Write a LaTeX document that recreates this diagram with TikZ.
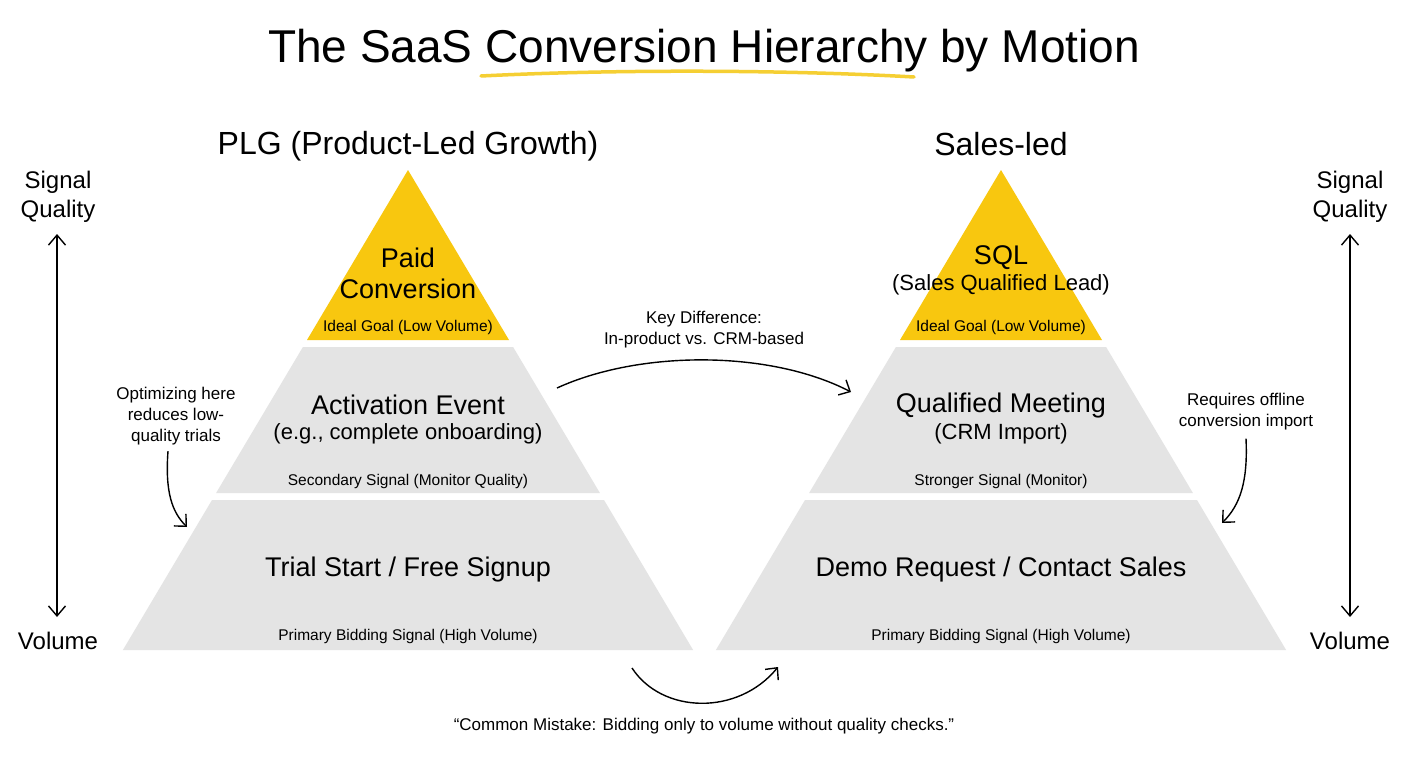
\documentclass[tikz,border=0pt]{standalone}
\usepackage{fontspec}
\setmainfont{Liberation Sans}
\usetikzlibrary{arrows.meta}
\definecolor{gold}{HTML}{F8C70F}
\definecolor{tier}{HTML}{E4E4E4}
\definecolor{uline}{HTML}{F5CF33}
\tikzset{
  big/.style={inner sep=0pt, align=center, font=\fontsize{27}{31}\selectfont},
  mid/.style={inner sep=0pt, align=center, font=\fontsize{22}{26}\selectfont},
  small/.style={inner sep=0pt, align=center, font=\fontsize{15.5}{18}\selectfont},
  note/.style={inner sep=0pt, align=center, font=\fontsize{17}{21}\selectfont},
  head/.style={inner sep=0pt, align=center, font=\fontsize{32}{36}\selectfont},
  axis/.style={inner sep=0pt, align=center, font=\fontsize{24}{29}\selectfont},
  conn/.style={-{Straight Barb[length=9pt,width=17pt,line width=1.4pt]}, line width=1.4pt},
  dbl/.style={{Straight Barb[length=10pt,width=17pt,line width=1.4pt]}-{Straight Barb[length=10pt,width=17pt,line width=1.4pt]}, line width=1.4pt}
}
\begin{document}
\begin{tikzpicture}[x=1pt,y=-1pt]
\useasboundingbox (0,0) rectangle (1408,768);
\fill[white] (0,0) rectangle (1408,768);

% title
\node[inner sep=0pt, font=\fontsize{46}{50}\selectfont] (title) at (704,51) {The SaaS Conversion Hierarchy by Motion};
\draw[uline, line width=3.5pt, line cap=round] (481,76) .. controls (620,69) and (790,70) .. (914,77);

% left pyramid
\fill[gold] (408,170) -- (307,340) -- (509,340) -- cycle;
\fill[tier] (302.9,347) -- (513.1,347) -- (599.9,493) -- (216.1,493) -- cycle;
\fill[tier] (212,500) -- (604,500) -- (693.1,650) -- (122.9,650) -- cycle;

% right pyramid
\fill[gold] (1001,170) -- (900,340) -- (1102,340) -- cycle;
\fill[tier] (895.9,347) -- (1106.1,347) -- (1192.9,493) -- (809.1,493) -- cycle;
\fill[tier] (805,500) -- (1197,500) -- (1286.1,650) -- (715.9,650) -- cycle;

% headings
\node[head] (plg) at (408,146) {PLG (Product-Led Growth)};
\node[head] (sales) at (1001,144) {Sales-led};

% left labels
\node[big] (paid) at (408,273) {Paid\\Conversion};
\node[small] (ideal1) at (408,327) {Ideal Goal (Low Volume)};
\node[big] (act) at (408,405) {Activation Event};
\node[mid] (eg) at (408,434) {(e.g., complete onboarding)};
\node[small] (sec) at (408,481) {Secondary Signal (Monitor Quality)};
\node[big] (trial) at (408,570) {Trial Start / Free Signup};
\node[small] (prim1) at (408,636) {Primary Bidding Signal (High Volume)};

% right labels
\node[big] (sql) at (1001,258) {SQL};
\node[mid] (sqlfull) at (1001,285) {(Sales Qualified Lead)};
\node[small] (ideal2) at (1001,327) {Ideal Goal (Low Volume)};
\node[big] (qm) at (1001,406) {Qualified Meeting};
\node[mid] (crm) at (1001,434) {(CRM Import)};
\node[small] (strong) at (1001,481) {Stronger Signal (Monitor)};
\node[big] (demo) at (1001,570) {Demo Request / Contact Sales};
\node[small] (prim2) at (1001,636) {Primary Bidding Signal (High Volume)};

% axes
\node[axis] (sqL) at (58,197) {Signal\\Quality};
\node[axis] (volL) at (58,641) {Volume};
\node[axis] (sqR) at (1350,197) {Signal\\Quality};
\node[axis] (volR) at (1350,641) {Volume};
\coordinate (aLt) at (57,234);
\coordinate (aLb) at (57,617);
\coordinate (aRt) at (1350,234);
\coordinate (aRb) at (1350,617);
\draw[dbl] (aLt) -- (aLb);
\draw[dbl] (aRt) -- (aRb);

% annotations
\node[note] (kd) at (704,330) {Key Difference:\\In-product vs. CRM-based};
\coordinate (kdS) at (557,388);
\coordinate (kdE) at (851,392);
\draw[conn] (kdS) .. controls (640,350) and (770,350) .. (kdE);

\node[note] (opt) at (176,416) {Optimizing here\\reduces low-\\quality trials};
\coordinate (optE) at (187,527);
\draw[conn] ([xshift=-8pt,yshift=-6pt]opt.south) .. controls (165,492) and (172,512) .. (optE);

\node[note] (req) at (1246,412) {Requires offline\\conversion import};
\coordinate (reqE) at (1222,523);
\draw[conn] ([yshift=-8pt]req.south) .. controls (1248,482) and (1240,505) .. (reqE);

\node[note] (cm) at (704,726) {“Common Mistake: Bidding only to volume without quality checks.”};
\coordinate (cmS) at (632,668);
\coordinate (cmE) at (778,667);
\draw[conn] (cmS) .. controls (662,714) and (738,716) .. (cmE);
\end{tikzpicture}
\end{document}
